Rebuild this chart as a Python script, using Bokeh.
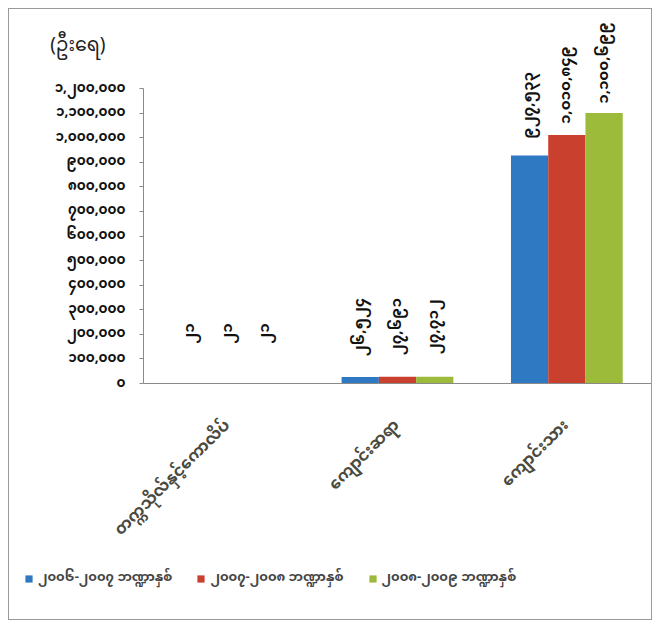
import math
from bokeh.plotting import figure
from bokeh.layouts import column
from bokeh.models import (ColumnDataSource, FixedTicker, Range1d, FactorRange,
                          LinearAxis, Legend, LegendItem)
from bokeh.transform import dodge
from bokeh.core.properties import value
from bokeh.embed import file_html
from bokeh.resources import INLINE

MY_FONT = "Noto Sans Myanmar, Padauk, Myanmar Text, Noto Sans, sans-serif"

categories = ["တက္ကသိုလ်နှင့်ကောလိပ်", "ကျောင်းဆရာ", "ကျောင်းသား"]
series_names = ["၂၀၀၆-၂၀၀၇ ဘဏ္ဍာနှစ်", "၂၀၀၇-၂၀၀၈ ဘဏ္ဍာနှစ်", "၂၀၀၈-၂၀၀၉ ဘဏ္ဍာနှစ်"]
values_0607 = [21, 26524, 927533]
values_0708 = [21, 27691, 1010849]
values_0809 = [21, 27712, 1100699]
labels_0607 = ["၂၁", "၂၆,၅၂၄", "၉၂၇,၅၃၃"]
labels_0708 = ["၂၁", "၂၇,၆၉၁", "၁,၀၁၀,၈၄၉"]
labels_0809 = ["၂၁", "၂၇,၇၁၂", "၁,၁၀၀,၆၉၉"]
y_ticks = [0, 100000, 200000, 300000, 400000, 500000, 600000, 700000,
           800000, 900000, 1000000, 1100000, 1200000]
y_tick_labels = ["၀", "၁၀၀,၀၀၀", "၂၀၀,၀၀၀", "၃၀၀,၀၀၀", "၄၀၀,၀၀၀", "၅၀၀,၀၀၀",
                 "၆၀၀,၀၀၀", "၇၀၀,၀၀၀", "၈၀၀,၀၀၀", "၉၀၀,၀၀၀", "၁,၀၀၀,၀၀၀",
                 "၁,၁၀၀,၀၀၀", "၁,၂၀၀,၀၀၀"]
unit_label = "(ဦးရေ)"
colors = ["#2f78c2", "#c9412e", "#9cbb3a"]

UNIT_POS = 1370000  # vertical placement of the unit caption (layout only)

src = ColumnDataSource(dict(cat=categories, a=values_0607, b=values_0708, c=values_0809,
                            la=labels_0607, lb=labels_0708, lc=labels_0809))

p = figure(x_range=FactorRange(*categories), y_range=Range1d(0, 1517300),
           width=642, height=553, output_backend="svg", toolbar_location=None,
           min_border_left=134, min_border_right=0, min_border_top=1, min_border_bottom=179)
p.frame_align = False
p.x_range.range_padding = 0
p.outline_line_color = None
p.grid.grid_line_color = None

bw = 0.22
offsets = [-bw, 0, bw]
cols = ["a", "b", "c"]
lcols = ["la", "lb", "lc"]
for off, col, lcol, color in zip(offsets, cols, lcols, colors):
    p.vbar(x=dodge("cat", off, range=p.x_range), top=col, width=bw, source=src,
           fill_color=color, line_color=None)
    p.text(x=dodge("cat", off, range=p.x_range), y=col, text=lcol, source=src,
           angle=math.pi / 2, text_align="center", text_baseline="middle",
           y_offset=-50, text_font=value(MY_FONT), text_font_size="15px",
           text_font_style="bold", text_color="#111111")

p.yaxis.bounds = (0, 1200000)
p.yaxis.ticker = FixedTicker(ticks=y_ticks)
p.yaxis.major_label_overrides = {t: l for t, l in zip(y_ticks, y_tick_labels)}
p.yaxis.minor_tick_line_color = None
p.yaxis.major_tick_in = 0
p.yaxis.major_tick_out = 4
p.yaxis.major_label_standoff = 14
p.yaxis.axis_line_color = "#8a8a8a"
p.yaxis.major_tick_line_color = "#8a8a8a"
p.yaxis.major_label_text_font = MY_FONT
p.yaxis.major_label_text_font_size = "13.5px"
p.yaxis.major_label_text_font_style = "bold"
p.yaxis.major_label_text_color = "#111111"

# unit caption shown as an extra (line-less) left axis
unit_axis = LinearAxis(ticker=FixedTicker(ticks=[UNIT_POS]),
                       major_label_overrides={UNIT_POS: unit_label})
unit_axis.axis_line_color = None
unit_axis.major_tick_line_color = None
unit_axis.minor_tick_line_color = None
unit_axis.major_tick_in = 0
unit_axis.major_tick_out = 0
unit_axis.major_label_standoff = -54
unit_axis.major_label_text_font = MY_FONT
unit_axis.major_label_text_font_size = "19px"
unit_axis.major_label_text_color = "#222222"
p.add_layout(unit_axis, "left")

p.xaxis.major_tick_line_color = None
p.xaxis.minor_tick_line_color = None
p.xaxis.axis_line_color = "#8a8a8a"
p.xaxis.major_label_orientation = math.pi / 4
p.xaxis.major_label_standoff = 34
p.xaxis.major_label_text_font = MY_FONT
p.xaxis.major_label_text_font_size = "16px"
p.xaxis.major_label_text_font_style = "bold"
p.xaxis.major_label_text_color = "#4a4a40"

# legend strip
lg = figure(width=642, height=57, x_range=Range1d(0, 1), y_range=Range1d(0, 1),
            output_backend="svg", toolbar_location=None,
            x_axis_location=None, y_axis_location=None,
            min_border_left=0, min_border_right=0, min_border_top=0, min_border_bottom=0)
lg.frame_align = False
lg.grid.grid_line_color = None
lg.outline_line_color = None
proxies = [lg.vbar(x=[0.5], top=[0], bottom=[0], width=0, fill_color=c, line_color=None)
           for c in colors]
legend = Legend(items=[LegendItem(label=n, renderers=[r]) for n, r in zip(series_names, proxies)],
                orientation="horizontal", location=(15, 27),
                label_text_font=MY_FONT, label_text_font_size="13px",
                label_text_font_style="bold",
                glyph_width=9, glyph_height=9, spacing=24, margin=0, padding=4,
                border_line_color=None, background_fill_alpha=0)
lg.add_layout(legend, "center")

layout = column(p, lg, spacing=0,
                styles={"border": "1px solid #9a9a9a", "margin": "8px 0 0 8px"})

open("out.html", "w").write(file_html(layout, INLINE))
